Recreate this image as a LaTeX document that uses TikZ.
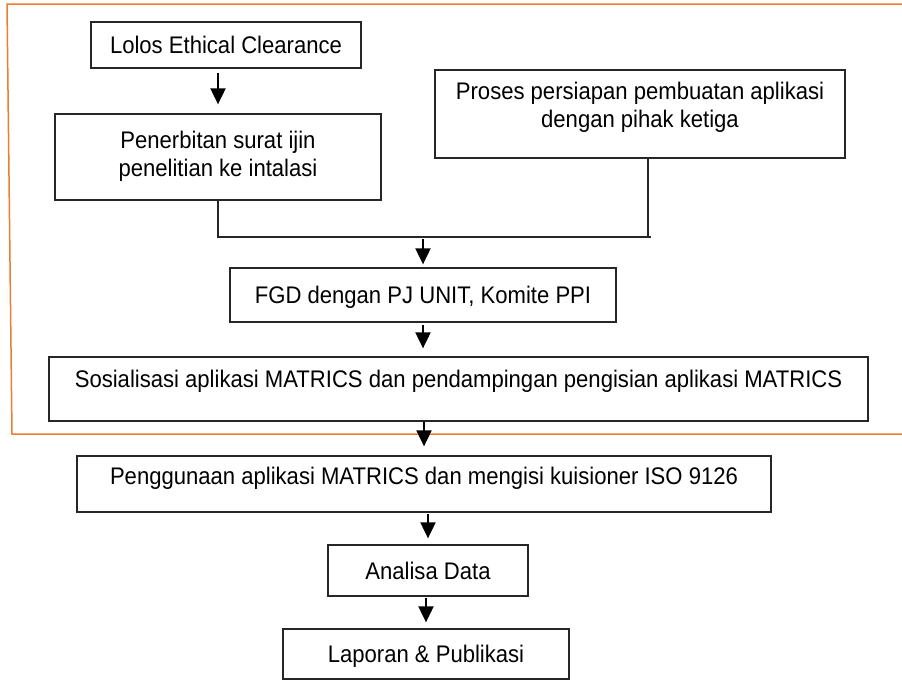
\documentclass[tikz,border=0pt]{standalone}
\usepackage{fontspec}
\setmainfont{Liberation Sans}[FakeStretch=0.92]
\usetikzlibrary{arrows.meta}

\definecolor{frameorange}{RGB}{237,125,49}
\newcommand{\lift}[2]{\raisebox{#1}[\height][\depth]{#2}}
\newcommand{\twoline}[2]{\begin{tabular}{@{}c@{}}#1\\#2\end{tabular}}

\tikzset{
  stepbox/.style={draw=black!85, line width=1.3pt, inner sep=0pt,
    font=\fontsize{24}{28}\selectfont},
  oneline/.style={text height=17pt, text depth=0pt},
  flow/.style={-{Triangle[width=15pt,length=16pt]}, line width=2pt},
  joinline/.style={draw=black!85, line width=1.3pt},
  frame/.style={draw=frameorange, line width=1.5pt}
}

\begin{document}
\begin{tikzpicture}[x=1pt,y=-1pt]
      \useasboundingbox (0,0) rectangle (902,680);

      % orange frame round the preparation stage
      \draw[frame] (902,4) -- (7,4) -- (12,434) -- (902,434);

      \node[stepbox, oneline, minimum width=270pt, minimum height=46pt] (lolos) at (226,45) {Lolos Ethical Clearance};
      \node[stepbox, minimum width=326pt, minimum height=86pt] (terbit) at (218,157) {\twoline{Penerbitan surat ijin}{penelitian ke intalasi}};
      \node[stepbox, minimum width=410pt, minimum height=88pt] (proses) at (640,114) {\lift{6pt}{\twoline{Proses persiapan pembuatan aplikasi}{dengan pihak ketiga}}};
      \node[stepbox, oneline, minimum width=386pt, minimum height=54pt] (fgd) at (423,295) {FGD dengan PJ UNIT, Komite PPI};
      \node[stepbox, oneline, minimum width=819pt, minimum height=64pt] (sosial) at (458.5,389) {\lift{10pt}{Sosialisasi aplikasi MATRICS dan pendampingan pengisian aplikasi MATRICS}};
      \node[stepbox, oneline, minimum width=694pt, minimum height=56pt] (guna) at (424,484) {\lift{8pt}{Penggunaan aplikasi MATRICS dan mengisi kuisioner ISO 9126}};
      \node[stepbox, oneline, minimum width=200pt, minimum height=51pt] (analisa) at (428,570.5) {Analisa Data};
      \node[stepbox, oneline, minimum width=286pt, minimum height=50pt] (lapor) at (426,654) {Laporan \& Publikasi};

      \coordinate (join) at (423,237);
      \coordinate (tap) at ([xshift=8pt]proses.south);

      \draw[flow, shorten <=4pt, shorten >=9pt] (terbit.north |- lolos.south) -- (terbit.north);
      \draw[joinline] (terbit.south) |- (join) -| (tap);
      \draw[joinline] (tap |- join) -- ++(3,0);
      \draw[flow, shorten <=2pt, shorten >=3pt] (join) -- (join |- fgd.north);
      \draw[flow, shorten <=2pt, shorten >=8pt] (fgd.south) -- (fgd.south |- sosial.north);
      \draw[flow, shorten >=9pt] (guna.north |- sosial.south) -- (guna.north);
      \draw[flow, shorten <=1pt, shorten >=6pt] (analisa.north |- guna.south) -- (analisa.north);
      \draw[flow, shorten <=1pt, shorten >=6pt] (lapor.north |- analisa.south) -- (lapor.north);
\end{tikzpicture}
\end{document}
